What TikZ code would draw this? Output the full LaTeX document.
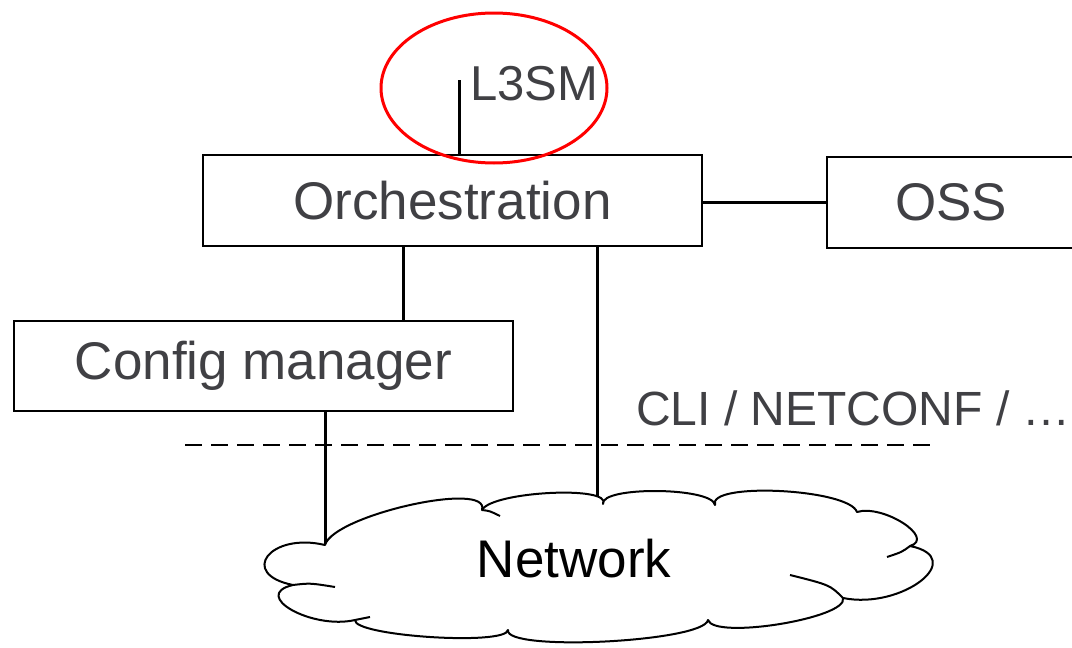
\documentclass[tikz,border=0pt]{standalone}
\usepackage{fontspec}
\setmainfont{Liberation Sans}
\usetikzlibrary{backgrounds}
\definecolor{txtgray}{RGB}{64,64,68}
\newcommand{\bigtxt}{\fontsize{53}{60}\selectfont}

\begin{document}
\begin{tikzpicture}[x=1pt,y=-1pt,
	box/.style={draw,line width=2pt,fill=white,inner sep=0pt,text=txtgray,font=\bigtxt},
	link/.style={line width=3pt},
	puffs/.style={draw,line width=2pt,line join=round}]
	\useasboundingbox (0,0) rectangle (1072,648);
	% boxes
	\node[box,minimum width=499pt,minimum height=91pt] (orch) at (452.5,200.5) {Orchestration};
	\node[box,minimum width=248pt,minimum height=91pt] (oss) at (951,202.5) {OSS};
	\node[box,minimum width=499pt,minimum height=90pt] (cfg) at (263.5,366) {Config manager};
	% cloud
	\path[puffs,fill=white] (325,545)
		.. controls (333.7,515) and (490.7,480) .. (482,510)
		.. controls (492,491.3) and (613,485.3) .. (603,504)
		.. controls (600.3,486) and (712.3,487) .. (715,505)
		.. controls (707,481.7) and (849,488.7) .. (857,512)
		.. controls (883,504) and (936,538) .. (910,546)
		.. controls (969,558) and (902,610) .. (843,598)
		.. controls (849,618) and (714,640) .. (708,620)
		.. controls (704,642) and (504,652) .. (508,630)
		.. controls (506,646) and (353,636) .. (355,620)
		.. controls (312,630) and (250,595) .. (293,585)
		.. controls (238,574) and (270,532) .. (325,545) -- cycle;
	\path[puffs]
		(482,510) .. controls (490,511) .. (500,516)
		(910,546) .. controls (902,552) .. (887,557)
		(843,598) .. controls (830,585) .. (790,575)
		(293,585) .. controls (310,583) .. (335,587)
		(355,620) .. controls (362,618) .. (370,617);
	\node[font=\bigtxt] (net) at (574,559) {Network};
	% labels
	\node[text=txtgray,font=\fontsize{49}{56}\selectfont,anchor=west,inner sep=0pt] (l3sm) at (470,84) {L3SM};
	\node[text=txtgray,font=\fontsize{48}{56}\selectfont,anchor=west,inner sep=0pt] (cli) at (636,408) {CLI / NETCONF / …};
	\draw[red,line width=3pt] (494,88) ellipse [x radius=113pt,y radius=75pt];
	% connectors
	\coordinate (l3top) at (459,80);
	\coordinate (orchnet) at (597,560);
	\coordinate (cfgnet) at (325,560);
	\path[link]
		(oss.west -| orch.east) edge (oss.west)
		(l3top) edge (orch.north -| l3top)
		(orch.south -| 403,0) edge (cfg.north -| 403,0);
	\begin{pgfonlayer}{background}
		\path[link]
			(orch.south -| orchnet) edge (orchnet)
			(cfg.south -| cfgnet) edge (cfgnet);
	\end{pgfonlayer}
	\draw[line width=2pt,dash pattern=on 17pt off 9pt] (185,445) -- (930,445);
\end{tikzpicture}
\end{document}
